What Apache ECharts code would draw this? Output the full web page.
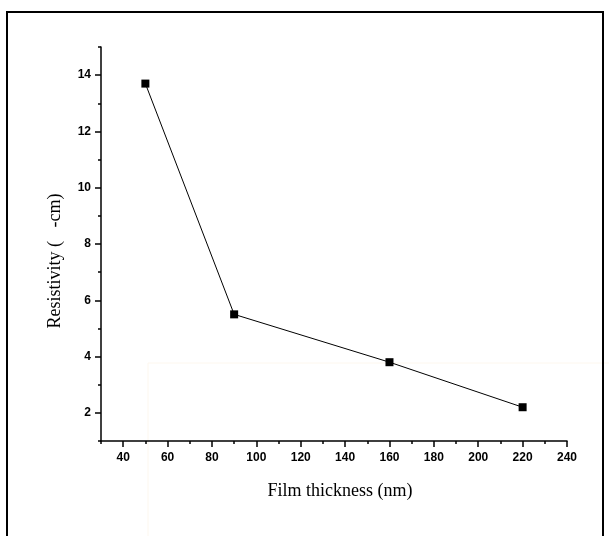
<!DOCTYPE html>
<html>
<head>
<meta charset="utf-8">
<script src="https://cdn.jsdelivr.net/npm/echarts@6/dist/echarts.min.js"></script>
<style>
html,body{margin:0;padding:0;background:#fff;}
#chart{width:609px;height:536px;}
</style>
</head>
<body>
<div id="chart"></div>
<script>
// Data
const thickness = [50, 90, 160, 220];
const resistivity = [13.7, 5.5, 3.8, 2.2];
const xMajorTicks = [40, 60, 80, 100, 120, 140, 160, 180, 200, 220, 240];
const xMinorTicks = [30, 50, 70, 90, 110, 130, 150, 170, 190, 210, 230];
const yMajorTicks = [2, 4, 6, 8, 10, 12, 14];
const yMinorTicks = [1, 3, 5, 7, 9, 11, 13, 15];
const xTitle = 'Film thickness (nm)';
const yTitle = 'Resistivity (   -cm)';

const chart = echarts.init(document.getElementById('chart'), null, {renderer: 'canvas'});

const labelStyle = {fontFamily: 'Liberation Sans', fontWeight: 'bold', fontSize: 12, color: '#000'};
const lineStyle = {color: '#000', width: 1.5};

const option = {
  backgroundColor: '#fff',
  animation: false,
  grid: {left: 101, top: 47, width: 466, height: 394, containLabel: false},
  xAxis: [
    {
      type: 'value', min: 30, max: 240, gridIndex: 0, position: 'bottom',
      axisLine: {show: true, lineStyle: lineStyle},
      axisTick: {show: true, inside: false, length: 6, customValues: xMajorTicks, lineStyle: lineStyle},
      axisLabel: Object.assign({show: true, margin: 11, customValues: xMajorTicks}, labelStyle),
      splitLine: {show: false}
    },
    {
      type: 'value', min: 30, max: 240, gridIndex: 0, position: 'bottom',
      axisLine: {show: false},
      axisTick: {show: true, inside: false, length: 3, customValues: xMinorTicks, lineStyle: lineStyle},
      axisLabel: {show: false},
      splitLine: {show: false}
    }
  ],
  yAxis: [
    {
      type: 'value', min: 1, max: 15, gridIndex: 0, position: 'left',
      axisLine: {show: true, lineStyle: lineStyle},
      axisTick: {show: true, inside: false, length: 6, customValues: yMajorTicks, lineStyle: lineStyle},
      axisLabel: Object.assign({show: true, margin: 10, customValues: yMajorTicks}, labelStyle),
      splitLine: {show: false}
    },
    {
      type: 'value', min: 1, max: 15, gridIndex: 0, position: 'left',
      axisLine: {show: false},
      axisTick: {show: true, inside: false, length: 3, customValues: yMinorTicks, lineStyle: lineStyle},
      axisLabel: {show: false},
      splitLine: {show: false}
    }
  ],
  series: [
    {
      type: 'line',
      xAxisIndex: 0, yAxisIndex: 0,
      data: thickness.map((t, i) => [t, resistivity[i]]),
      symbol: 'rect', symbolSize: 8,
      itemStyle: {color: '#000'},
      lineStyle: {color: '#000', width: 1},
      z: 5
    }
  ],
  graphic: [
    {
      type: 'rect', silent: true, z: -1,
      shape: {x: 148, y: 363, width: 600, height: 300},
      style: {fill: 'none', stroke: '#fdf7ee', lineWidth: 1}
    },
    {
      type: 'rect', silent: true,
      shape: {x: 7, y: 12, width: 596, height: 600},
      style: {fill: 'none', stroke: '#000', lineWidth: 2}
    },
    {
      type: 'text', silent: true,
      x: 340, y: 491,
      style: {text: xTitle, font: '18px "Liberation Serif"', fill: '#000', textAlign: 'center', textVerticalAlign: 'middle'}
    },
    {
      type: 'text', silent: true,
      x: 55, y: 261, rotation: Math.PI / 2,
      style: {text: yTitle, font: '18px "Liberation Serif"', fill: '#000', textAlign: 'center', textVerticalAlign: 'middle'}
    }
  ]
};
chart.setOption(option);
</script>
</body>
</html>
